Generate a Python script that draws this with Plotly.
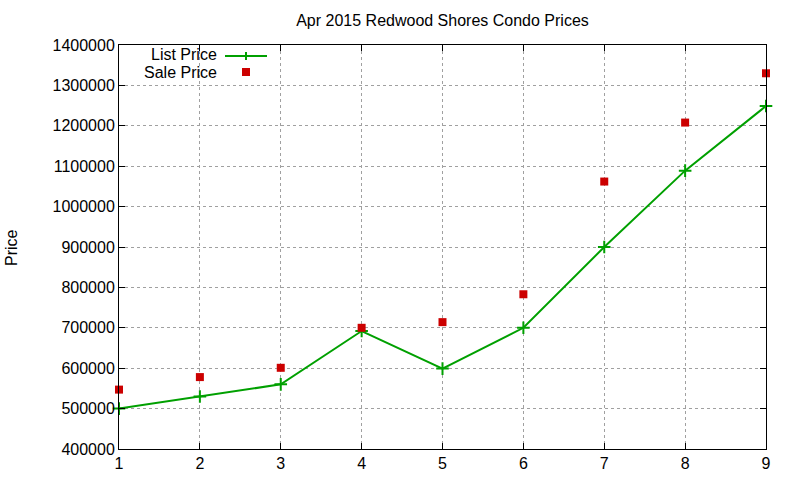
import plotly.graph_objects as go

x_vals = [1, 2, 3, 4, 5, 6, 7, 8, 9]
list_price = [500000, 530000, 560000, 692000, 599000, 700000, 900000, 1089000, 1249000]
sale_price = [547000, 578000, 601000, 700000, 714000, 783000, 1062000, 1208000, 1330000]
y_ticks = list(range(400000, 1400001, 100000))

GREEN = "#00a000"
RED = "#cc0000"
FONT = "Liberation Sans, Arial, sans-serif"
FS = 16

fig = go.Figure()
fig.add_trace(go.Scatter(
    x=x_vals, y=list_price, mode="lines+markers", name="List Price",
    line=dict(color=GREEN, width=2),
    marker=dict(symbol="cross-thin", size=9, line=dict(color=GREEN, width=2)),
    showlegend=False, cliponaxis=False,
))
fig.add_trace(go.Scatter(
    x=x_vals, y=sale_price, mode="markers", name="Sale Price",
    marker=dict(symbol="square", size=8, color=RED),
    showlegend=False, cliponaxis=False,
))

# manual gnuplot-style legend (text left, sample right)
L, R, T, B = 119, 34, 45, 31
W, H = 800, 480
pw, ph = W - L - R, H - T - B
def px(x):
    return (x - L) / pw
def py(y):
    return (H - B - y) / ph

annotations = [
    dict(text="List Price", x=px(218), y=py(54), xref="paper", yref="paper",
         xanchor="right", yanchor="middle", showarrow=False, borderpad=0,
         font=dict(family=FONT, size=FS, color="black")),
    dict(text="Sale Price", x=px(218), y=py(72.5), xref="paper", yref="paper",
         xanchor="right", yanchor="middle", showarrow=False, borderpad=0,
         font=dict(family=FONT, size=FS, color="black")),
    dict(text="Price", x=px(11), y=py(247), xref="paper", yref="paper",
         xanchor="center", yanchor="middle", textangle=-90, showarrow=False,
         font=dict(family=FONT, size=FS, color="black")),
]
shapes = [
    dict(type="line", xref="paper", yref="paper", x0=px(225), x1=px(267), y0=py(56), y1=py(56),
         line=dict(color=GREEN, width=2)),
    dict(type="line", xref="paper", yref="paper", x0=px(246), x1=px(246), y0=py(52), y1=py(60),
         line=dict(color=GREEN, width=2)),
    dict(type="rect", xref="paper", yref="paper", x0=px(242), x1=px(250), y0=py(68), y1=py(76),
         fillcolor=RED, line=dict(width=0)),
]

fig.update_layout(
    width=W, height=H,
    margin=dict(l=L, r=R, t=T, b=B),
    paper_bgcolor="white", plot_bgcolor="white",
    title=dict(text="Apr 2015 Redwood Shores Condo Prices", x=(L + pw / 2) / W, xanchor="center",
               y=1 - 20 / H, yanchor="middle", font=dict(family=FONT, size=FS, color="black")),
    font=dict(family=FONT, size=FS, color="black"),
    annotations=annotations, shapes=shapes,
    xaxis=dict(range=[1, 9], tickmode="array", tickvals=x_vals, ticktext=[str(v) for v in x_vals],
               ticks="inside", ticklen=6, tickcolor="black", showline=True, linecolor="black",
               linewidth=1, mirror="allticks", showgrid=True, gridcolor="#a0a0a0", griddash="dot",
               gridwidth=1, zeroline=False, tickfont=dict(family=FONT, size=FS), automargin=False),
    yaxis=dict(range=[400000, 1400000], tickmode="array", tickvals=y_ticks,
               ticktext=[str(v) for v in y_ticks],
               ticks="inside", ticklen=6, tickcolor="black", showline=True, linecolor="black",
               linewidth=1, mirror="allticks", showgrid=True, gridcolor="#a0a0a0", griddash="dot",
               gridwidth=1, zeroline=False, tickfont=dict(family=FONT, size=FS), automargin=False),
)

fig.write_html("out.html", config={"displayModeBar": False},
               post_script="document.body.style.margin='0';")
